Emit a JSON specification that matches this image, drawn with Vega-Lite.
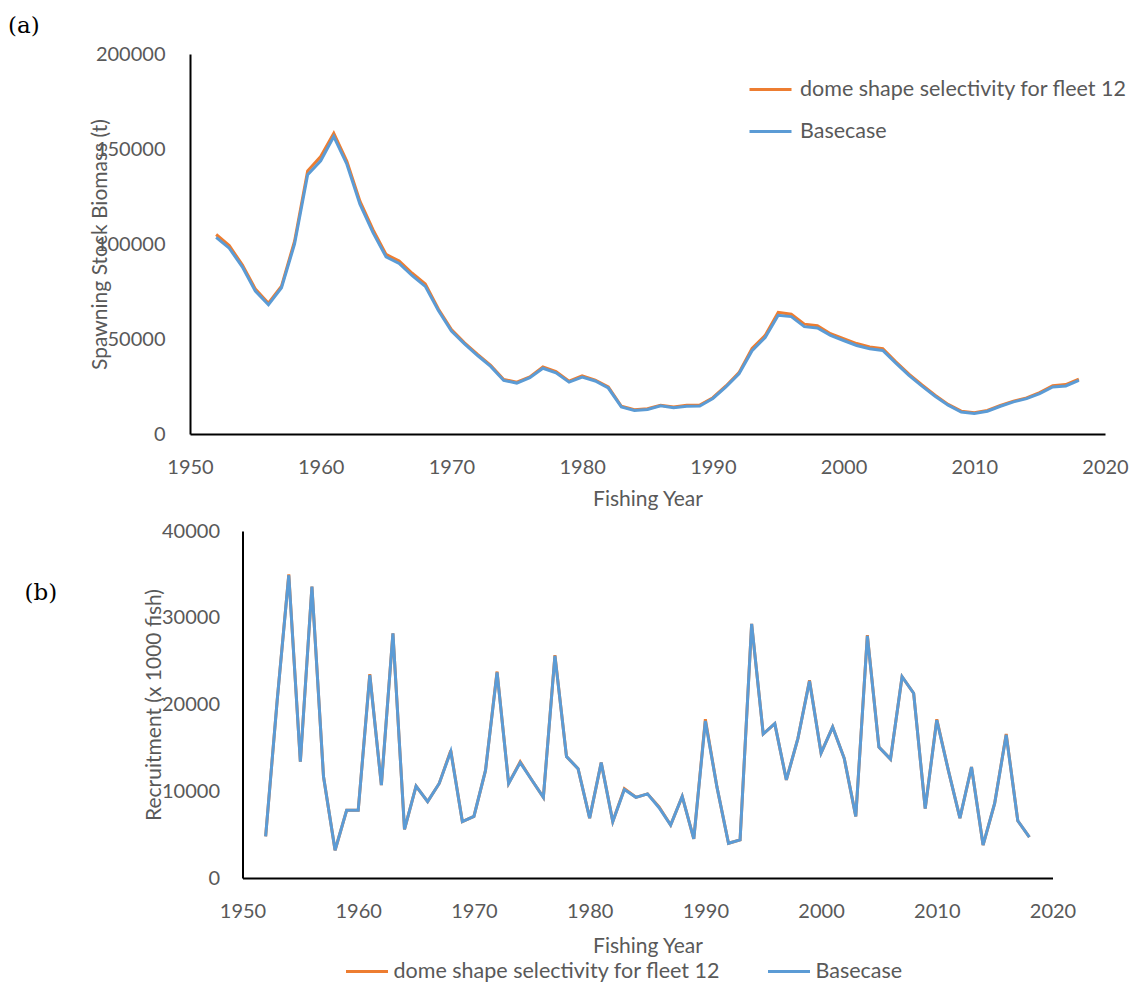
{
  "$schema": "https://vega.github.io/schema/vega-lite/v6.json",
  "background": "white",
  "padding": {"left": 8, "top": 15, "right": 0, "bottom": 0},
  "config": {
    "font": "Lato",
    "view": {"stroke": null},
    "axis": {"labelFont": "Lato", "labelFontSize": 20, "labelColor": "#595959", "titleFont": "Lato", "titleFontSize": 21, "titleFontWeight": "normal", "titleColor": "#595959", "ticks": false, "grid": false, "domainColor": "#000000", "domainWidth": 2, "labelFlush": false, "labelOverlap": false},
    "legend": {"labelFont": "Lato", "labelFontSize": 21.5, "labelColor": "#595959", "labelLimit": 0, "symbolType": "stroke", "symbolSize": 1764, "symbolStrokeWidth": 3, "title": null},
    "title": {"font": "DejaVu Serif", "fontSize": 23, "fontWeight": "normal", "color": "#000000"}
  },
  "datasets": {
    "ssb": [
      {"year": 1952, "base": 103500, "dome": 105000},
      {"year": 1953, "base": 97800, "dome": 99200},
      {"year": 1954, "base": 88000, "dome": 89000},
      {"year": 1955, "base": 75200, "dome": 76300},
      {"year": 1956, "base": 68000, "dome": 68800},
      {"year": 1957, "base": 77000, "dome": 77800},
      {"year": 1958, "base": 100000, "dome": 101500},
      {"year": 1959, "base": 136500, "dome": 138500},
      {"year": 1960, "base": 143800, "dome": 146000},
      {"year": 1961, "base": 156500, "dome": 158300},
      {"year": 1962, "base": 142000, "dome": 143500},
      {"year": 1963, "base": 121000, "dome": 122500},
      {"year": 1964, "base": 106000, "dome": 107500},
      {"year": 1965, "base": 93200, "dome": 94500},
      {"year": 1966, "base": 89800, "dome": 91000},
      {"year": 1967, "base": 83300, "dome": 84600},
      {"year": 1968, "base": 77700, "dome": 79000},
      {"year": 1969, "base": 65000, "dome": 65800},
      {"year": 1970, "base": 54200, "dome": 55000},
      {"year": 1971, "base": 47400, "dome": 48000},
      {"year": 1972, "base": 41300, "dome": 41900},
      {"year": 1973, "base": 35600, "dome": 36100},
      {"year": 1974, "base": 28200, "dome": 28700},
      {"year": 1975, "base": 26800, "dome": 27300},
      {"year": 1976, "base": 29600, "dome": 30000},
      {"year": 1977, "base": 34600, "dome": 35300},
      {"year": 1978, "base": 32200, "dome": 32800},
      {"year": 1979, "base": 27300, "dome": 27800},
      {"year": 1980, "base": 30000, "dome": 30600},
      {"year": 1981, "base": 27900, "dome": 28400},
      {"year": 1982, "base": 24200, "dome": 24800},
      {"year": 1983, "base": 14300, "dome": 14600},
      {"year": 1984, "base": 12400, "dome": 12800},
      {"year": 1985, "base": 12900, "dome": 13300},
      {"year": 1986, "base": 14800, "dome": 15100},
      {"year": 1987, "base": 13800, "dome": 14200},
      {"year": 1988, "base": 14600, "dome": 15100},
      {"year": 1989, "base": 14700, "dome": 15200},
      {"year": 1990, "base": 18700, "dome": 19100},
      {"year": 1991, "base": 24800, "dome": 25300},
      {"year": 1992, "base": 31700, "dome": 32300},
      {"year": 1993, "base": 43800, "dome": 45000},
      {"year": 1994, "base": 50800, "dome": 51900},
      {"year": 1995, "base": 62500, "dome": 64000},
      {"year": 1996, "base": 61800, "dome": 63000},
      {"year": 1997, "base": 56500, "dome": 57800},
      {"year": 1998, "base": 55800, "dome": 57000},
      {"year": 1999, "base": 51900, "dome": 52800},
      {"year": 2000, "base": 49200, "dome": 50200},
      {"year": 2001, "base": 46600, "dome": 47600},
      {"year": 2002, "base": 44900, "dome": 45800},
      {"year": 2003, "base": 44000, "dome": 44900},
      {"year": 2004, "base": 37300, "dome": 38000},
      {"year": 2005, "base": 30900, "dome": 31500},
      {"year": 2006, "base": 25200, "dome": 25800},
      {"year": 2007, "base": 19900, "dome": 20400},
      {"year": 2008, "base": 15200, "dome": 15600},
      {"year": 2009, "base": 11600, "dome": 12000},
      {"year": 2010, "base": 10800, "dome": 11200},
      {"year": 2011, "base": 12000, "dome": 12400},
      {"year": 2012, "base": 14600, "dome": 15000},
      {"year": 2013, "base": 16900, "dome": 17300},
      {"year": 2014, "base": 18600, "dome": 19000},
      {"year": 2015, "base": 21300, "dome": 21800},
      {"year": 2016, "base": 24800, "dome": 25400},
      {"year": 2017, "base": 25300, "dome": 26000},
      {"year": 2018, "base": 28200, "dome": 28900}
    ],
    "rec": [
      {"year": 1952, "base": 4800, "dome": 4800},
      {"year": 1953, "base": 20500, "dome": 20500},
      {"year": 1954, "base": 34900, "dome": 35000},
      {"year": 1955, "base": 13400, "dome": 13400},
      {"year": 1956, "base": 33600, "dome": 33600},
      {"year": 1957, "base": 11700, "dome": 11700},
      {"year": 1958, "base": 3200, "dome": 3200},
      {"year": 1959, "base": 7800, "dome": 7800},
      {"year": 1960, "base": 7800, "dome": 7800},
      {"year": 1961, "base": 23400, "dome": 23500},
      {"year": 1962, "base": 10700, "dome": 10700},
      {"year": 1963, "base": 28200, "dome": 28200},
      {"year": 1964, "base": 5600, "dome": 5600},
      {"year": 1965, "base": 10600, "dome": 10600},
      {"year": 1966, "base": 8800, "dome": 8800},
      {"year": 1967, "base": 10900, "dome": 10900},
      {"year": 1968, "base": 14600, "dome": 14700},
      {"year": 1969, "base": 6500, "dome": 6500},
      {"year": 1970, "base": 7100, "dome": 7100},
      {"year": 1971, "base": 12400, "dome": 12400},
      {"year": 1972, "base": 23700, "dome": 23800},
      {"year": 1973, "base": 10900, "dome": 10900},
      {"year": 1974, "base": 13300, "dome": 13400},
      {"year": 1975, "base": 11300, "dome": 11300},
      {"year": 1976, "base": 9300, "dome": 9300},
      {"year": 1977, "base": 25600, "dome": 25700},
      {"year": 1978, "base": 14000, "dome": 14000},
      {"year": 1979, "base": 12600, "dome": 12600},
      {"year": 1980, "base": 6900, "dome": 6900},
      {"year": 1981, "base": 13300, "dome": 13300},
      {"year": 1982, "base": 6500, "dome": 6500},
      {"year": 1983, "base": 10200, "dome": 10300},
      {"year": 1984, "base": 9300, "dome": 9300},
      {"year": 1985, "base": 9700, "dome": 9700},
      {"year": 1986, "base": 8100, "dome": 8200},
      {"year": 1987, "base": 6100, "dome": 6100},
      {"year": 1988, "base": 9400, "dome": 9400},
      {"year": 1989, "base": 4500, "dome": 4500},
      {"year": 1990, "base": 18100, "dome": 18300},
      {"year": 1991, "base": 10500, "dome": 10500},
      {"year": 1992, "base": 4000, "dome": 4000},
      {"year": 1993, "base": 4400, "dome": 4400},
      {"year": 1994, "base": 29300, "dome": 29300},
      {"year": 1995, "base": 16600, "dome": 16600},
      {"year": 1996, "base": 17800, "dome": 17800},
      {"year": 1997, "base": 11300, "dome": 11300},
      {"year": 1998, "base": 16100, "dome": 16100},
      {"year": 1999, "base": 22700, "dome": 22800},
      {"year": 2000, "base": 14400, "dome": 14400},
      {"year": 2001, "base": 17400, "dome": 17400},
      {"year": 2002, "base": 13800, "dome": 13800},
      {"year": 2003, "base": 7100, "dome": 7100},
      {"year": 2004, "base": 27900, "dome": 28000},
      {"year": 2005, "base": 15100, "dome": 15100},
      {"year": 2006, "base": 13700, "dome": 13700},
      {"year": 2007, "base": 23200, "dome": 23200},
      {"year": 2008, "base": 21300, "dome": 21300},
      {"year": 2009, "base": 8000, "dome": 8000},
      {"year": 2010, "base": 18200, "dome": 18300},
      {"year": 2011, "base": 12400, "dome": 12400},
      {"year": 2012, "base": 6900, "dome": 6900},
      {"year": 2013, "base": 12800, "dome": 12800},
      {"year": 2014, "base": 3800, "dome": 3800},
      {"year": 2015, "base": 8600, "dome": 8600},
      {"year": 2016, "base": 16500, "dome": 16600},
      {"year": 2017, "base": 6600, "dome": 6600},
      {"year": 2018, "base": 4700, "dome": 4700}
    ]
  },
  "vconcat": [
    {
      "width": 915,
      "height": 380,
      "title": {"text": "(a)", "anchor": "start", "frame": "group", "dx": -182, "dy": -2},
      "data": {"name": "ssb"},
      "encoding": {
        "x": {"field": "year", "type": "quantitative", "scale": {"domain": [1950, 2020], "nice": false, "zero": false},
          "axis": {"values": [1950, 1960, 1970, 1980, 1990, 2000, 2010, 2020], "format": "d", "title": "Fishing Year", "labelPadding": 23, "titlePadding": 11}}
      },
      "layer": [
        {
          "mark": {"type": "line", "strokeWidth": 3},
          "encoding": {
            "y": {"field": "dome", "type": "quantitative", "scale": {"domain": [0, 200000], "nice": false},
              "axis": {"values": [0, 50000, 100000, 150000, 200000], "format": "d", "title": "Spawning Stock Biomass (t)", "labelPadding": 25, "titleX": -90, "titleBaseline": "middle"}},
            "color": {"datum": "dome shape selectivity for fleet 12", "type": "nominal",
              "scale": {"domain": ["dome shape selectivity for fleet 12", "Basecase"], "range": ["#ED7D31", "#5B9BD5"]},
              "legend": {"orient": "none", "legendX": 558, "legendY": 13, "direction": "vertical", "labelOffset": 7, "rowPadding": 9}}
          }
        },
        {
          "mark": {"type": "line", "strokeWidth": 3},
          "encoding": {
            "y": {"field": "base", "type": "quantitative",
              "axis": {"values": [0, 50000, 100000, 150000, 200000], "format": "d", "title": "Spawning Stock Biomass (t)", "labelPadding": 25, "titleX": -90, "titleBaseline": "middle"}},
            "color": {"datum": "Basecase", "type": "nominal"}
          }
        }
      ]
    },
    {
      "width": 810,
      "height": 347,
      "title": {"text": "(b)", "anchor": "start", "frame": "group", "dx": -218, "dy": 88},
      "data": {"name": "rec"},
      "encoding": {
        "x": {"field": "year", "type": "quantitative", "scale": {"domain": [1950, 2020], "nice": false, "zero": false},
          "axis": {"values": [1950, 1960, 1970, 1980, 1990, 2000, 2010, 2020], "format": "d", "title": "Fishing Year", "labelPadding": 23, "titlePadding": 14}}
      },
      "layer": [
        {
          "mark": {"type": "line", "strokeWidth": 3},
          "encoding": {
            "y": {"field": "dome", "type": "quantitative", "scale": {"domain": [0, 40000], "nice": false},
              "axis": {"values": [0, 10000, 20000, 30000, 40000], "format": "d", "title": "Recruitment (x 1000 fish)", "labelPadding": 23, "titleX": -88, "titleBaseline": "middle"}},
            "color": {"datum": "dome shape selectivity for fleet 12", "type": "nominal",
              "scale": {"domain": ["dome shape selectivity for fleet 12", "Basecase"], "range": ["#ED7D31", "#5B9BD5"]},
              "legend": {"orient": "none", "legendX": 102, "legendY": 418, "direction": "horizontal", "labelOffset": 4, "columnPadding": 41}}
          }
        },
        {
          "mark": {"type": "line", "strokeWidth": 3},
          "encoding": {
            "y": {"field": "base", "type": "quantitative",
              "axis": {"values": [0, 10000, 20000, 30000, 40000], "format": "d", "title": "Recruitment (x 1000 fish)", "labelPadding": 23, "titleX": -88, "titleBaseline": "middle"}},
            "color": {"datum": "Basecase", "type": "nominal"}
          }
        }
      ]
    }
  ],
  "spacing": 97,
  "bounds": "flush",
  "center": true,
  "resolve": {"scale": {"color": "independent", "x": "independent", "y": "independent"}, "legend": {"color": "independent"}}
}
